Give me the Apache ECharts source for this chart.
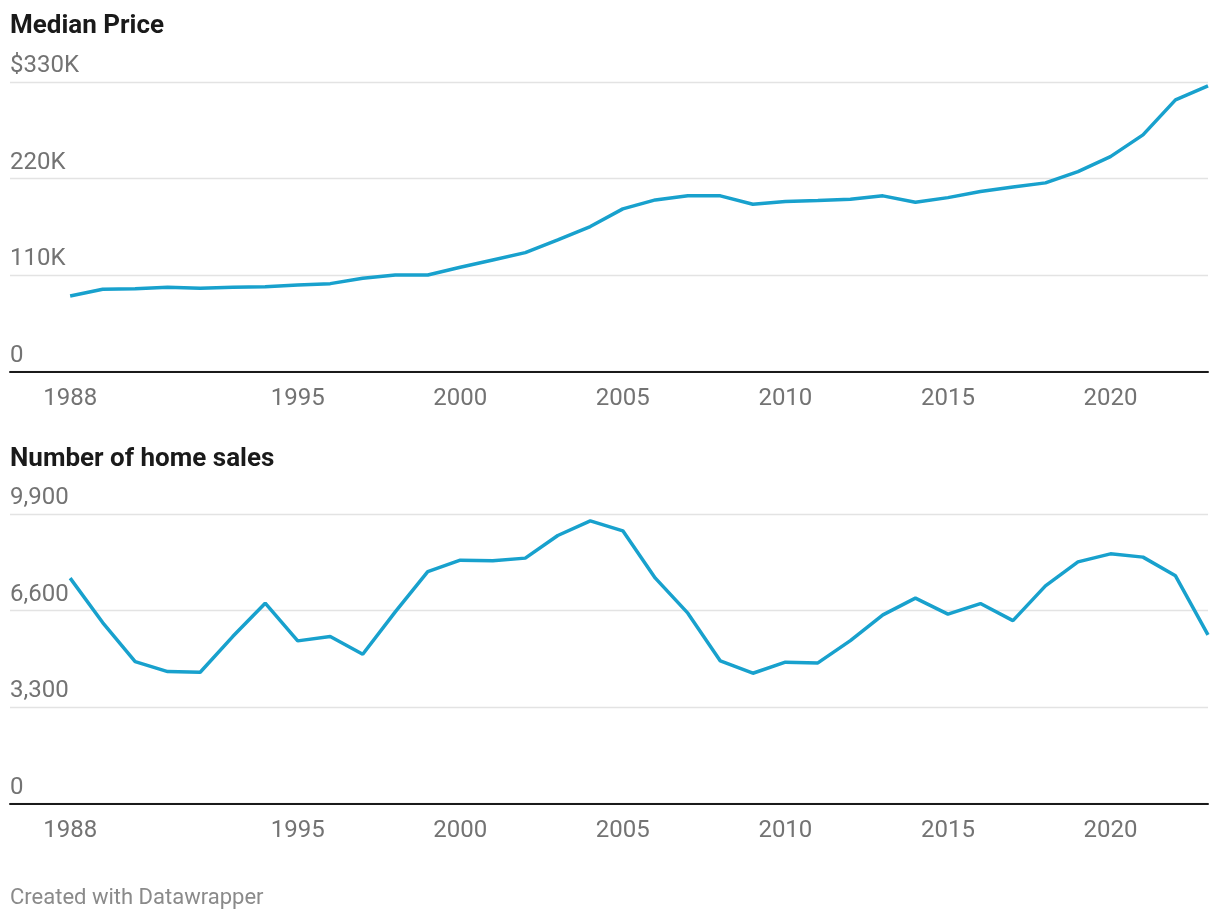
<!DOCTYPE html>
<html>
<head>
<meta charset="utf-8">
<script src="https://cdn.jsdelivr.net/npm/echarts@6/dist/echarts.min.js"></script>
<style>
html,body{margin:0;padding:0;background:#fff;}
#chart{width:1220px;height:920px;}
</style>
</head>
<body>
<div id="chart"></div>
<script>
const years = [1988,1989,1990,1991,1992,1993,1994,1995,1996,1997,1998,1999,2000,2001,2002,2003,2004,2005,2006,2007,2008,2009,2010,2011,2012,2013,2014,2015,2016,2017,2018,2019,2020,2021,2022,2023];
// Median price, thousands of dollars
const medianPriceK = [86.3,93.9,94.6,96.2,95.1,96.2,96.9,98.8,100.3,106.5,110.2,110.2,119,127.3,135.6,150.1,165.3,185.5,195.7,200.3,200.3,190.8,193.8,194.9,196.5,200.3,193.1,198.3,205.2,210.5,215.1,228,245,269.8,309.7,325.7];
const homeSales = [7708,6190,4856,4514,4493,5711,6853,5564,5711,5109,6556,7934,8323,8300,8392,9165,9667,9325,7708,6511,4880,4459,4835,4811,5574,6453,7024,6477,6839,6258,7445,8265,8539,8426,7787,5769];
const xTickYears = [1988,1995,2000,2005,2010,2015,2020];
const priceTicks = [0,110,220,330];
const salesTicks = [0,3300,6600,9900];
const titles = ['Median Price','Number of home sales'];
const footer = 'Created with Datawrapper';

const FONT = 'Roboto';
const LINE = '#18a1cd';
const GRAY = '#737373';

function xAxisCfg(gridIndex){
  return {
    type:'value', gridIndex, min:1986.15, max:2023,
    axisLine:{show:true,onZero:false,lineStyle:{color:'#1a1a1a',width:2}},
    axisTick:{show:false},
    splitLine:{show:false},
    axisLabel:{
      customValues:xTickYears, color:GRAY, fontFamily:FONT, fontSize:24,
      verticalAlign:'middle', margin:27, formatter:v=>String(v)
    }
  };
}
function yAxisCfg(gridIndex, ticks, fmt){
  return {
    type:'value', gridIndex, min:ticks[0], max:ticks[ticks.length-1], interval:ticks[1]-ticks[0],
    axisLine:{show:false}, axisTick:{show:false},
    splitLine:{show:true,lineStyle:{color:'#e3e3e3',width:1.3}},
    axisLabel:{
      inside:true, margin:0, color:GRAY, fontFamily:FONT, fontSize:24,
      verticalAlign:'bottom', lineHeight:32, align:'left', formatter:fmt
    }
  };
}

const chart = echarts.init(document.getElementById('chart'), null, {renderer:'canvas'});
chart.setOption({
  animation:false,
  backgroundColor:'#fff',
  grid:[
    {left:10,right:12,top:82,height:289.7},
    {left:10,right:12,top:514,height:289.7}
  ],
  xAxis:[xAxisCfg(0), xAxisCfg(1)],
  yAxis:[
    yAxisCfg(0, priceTicks, v => v===0 ? '0' : (v===330 ? '$330K' : v+'K')),
    yAxisCfg(1, salesTicks, v => v===0 ? '0' : v.toLocaleString('en-US'))
  ],
  series:[
    {type:'line', xAxisIndex:0, yAxisIndex:0, data:years.map((y,i)=>[y,medianPriceK[i]]),
     showSymbol:false, lineStyle:{color:LINE,width:3.5}, itemStyle:{color:LINE}},
    {type:'line', xAxisIndex:1, yAxisIndex:1, data:years.map((y,i)=>[y,homeSales[i]]),
     showSymbol:false, lineStyle:{color:LINE,width:3.5}, itemStyle:{color:LINE}}
  ],
  graphic:[
    {type:'text', style:{x:10, y:26.5, verticalAlign:'middle', text:titles[0], fill:'#1a1a1a', font:'bold 26px Roboto'}},
    {type:'text', style:{x:10, y:459, verticalAlign:'middle', text:titles[1], fill:'#1a1a1a', font:'bold 26px Roboto'}},
    {type:'text', style:{x:10, y:898.5, verticalAlign:'middle', text:footer, fill:'#8a8a8a', font:'22px Roboto'}}
  ]
});
</script>
</body>
</html>
